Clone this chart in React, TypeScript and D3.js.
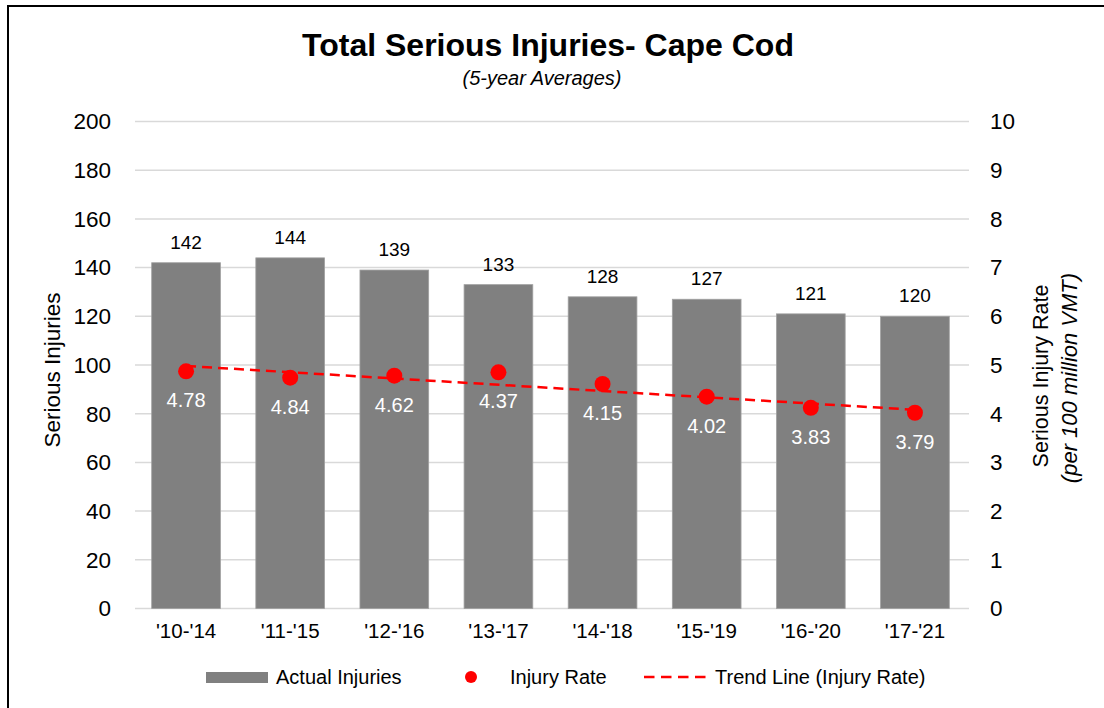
import * as d3 from "d3";

const categories = ["'10-'14", "'11-'15", "'12-'16", "'13-'17", "'14-'18", "'15-'19", "'16-'20", "'17-'21"];
const injuries = [142, 144, 139, 133, 128, 127, 121, 120];
// plotted rate markers (as they sit in the picture) and the labels printed under them
const rateValues = [4.87, 4.74, 4.78, 4.85, 4.61, 4.35, 4.12, 4.02];
const rateLabels = ["4.78", "4.84", "4.62", "4.37", "4.15", "4.02", "3.83", "3.79"];
// trend line value at first and last category
const trendEnds = [4.98, 4.08];
const leftTicks = [0, 20, 40, 60, 80, 100, 120, 140, 160, 180, 200];
const rightTicks = [0, 1, 2, 3, 4, 5, 6, 7, 8, 9, 10];

const W = 1104;
const H = 708;
const FONT = "'Liberation Sans', Arial, sans-serif";

const App = () => {
  const x = d3.scaleBand().domain(categories).range([134, 967]).paddingInner(0.34).paddingOuter(0.17);
  const yL = d3.scaleLinear().domain([0, 200]).range([608.5, 121.5]);
  const yR = d3.scaleLinear().domain([0, 10]).range([608.5, 121.5]);
  const cx = (c) => (x(c) as number) + x.bandwidth() / 2;

  const trendLine = d3
    .line<number>()
    .x((_, i) => cx(categories[i === 0 ? 0 : categories.length - 1]))
    .y((d) => yR(d));

  return (
    <svg width={W} height={H} style={{ position: "absolute", left: 0, top: 0, display: "block" }} fontFamily={FONT}>
      <rect x={0} y={0} width={W} height={H} fill="#fff" />
      {/* outer border (only top/left visible) */}
      <rect x={8} y={6} width={W + 50} height={H + 50} fill="none" stroke="#000" strokeWidth={2} />

      {/* title */}
      <text x={548} y={56} textAnchor="middle" fontSize={32} fontWeight="bold" fill="#000">
        Total Serious Injuries- Cape Cod
      </text>
      <text x={542} y={85} textAnchor="middle" fontSize={20} fontStyle="italic" fill="#000">
        (5-year Averages)
      </text>

      {/* gridlines */}
      {leftTicks.map((t) => (
        <line key={t} x1={135} x2={969} y1={yL(t)} y2={yL(t)} stroke="#d9d9d9" strokeWidth={1.5} />
      ))}

      {/* left ticks */}
      {leftTicks.map((t) => (
        <text key={"l" + t} x={111} y={yL(t)} dy="0.35em" textAnchor="end" fontSize={22.5} fill="#000">
          {t}
        </text>
      ))}
      {/* right ticks */}
      {rightTicks.map((t) => (
        <text key={"r" + t} x={990} y={yR(t)} dy="0.35em" textAnchor="start" fontSize={22.5} fill="#000">
          {t}
        </text>
      ))}

      {/* axis titles */}
      <text transform="translate(60,370) rotate(-90)" textAnchor="middle" fontSize={22.5} fill="#000">
        Serious Injuries
      </text>
      <text transform="translate(1048,376) rotate(-90)" textAnchor="middle" fontSize={21.5} fill="#000">
        Serious Injury Rate
      </text>
      <text transform="translate(1077,378) rotate(-90)" textAnchor="middle" fontSize={22} fontStyle="italic" fill="#000">
        (per 100 million VMT)
      </text>

      {/* bars */}
      {categories.map((c, i) => (
        <rect
          key={c}
          x={x(c)}
          y={yL(injuries[i])}
          width={x.bandwidth()}
          height={yL(0) - yL(injuries[i])}
          fill="#808080"
          stroke="#a0a0a0"
          strokeWidth={0.8}
        />
      ))}
      {categories.map((c, i) => (
        <text key={"v" + c} x={cx(c)} y={yL(injuries[i]) - 14} textAnchor="middle" fontSize={19} fill="#000">
          {injuries[i]}
        </text>
      ))}

      {/* category labels */}
      {categories.map((c) => (
        <text key={"c" + c} x={cx(c)} y={638} textAnchor="middle" fontSize={20.5} fill="#000">
          {c}
        </text>
      ))}

      {/* trend line */}
      <path d={trendLine(trendEnds) || ""} fill="none" stroke="#ff0000" strokeWidth={2.5} strokeDasharray="10,6" />

      {/* rate markers */}
      {categories.map((c, i) => (
        <circle key={"d" + c} cx={cx(c)} cy={yR(rateValues[i])} r={8} fill="#ff0000" />
      ))}
      {categories.map((c, i) => (
        <text key={"rl" + c} x={cx(c)} y={yR(rateValues[i]) + 36} textAnchor="middle" fontSize={20} fill="#fff">
          {rateLabels[i]}
        </text>
      ))}

      {/* legend */}
      <g fontSize={20} fill="#000">
        <rect x={206} y={672} width={62} height={11} fill="#808080" />
        <text x={276} y={684}>Actual Injuries</text>
        <circle cx={471} cy={677} r={6} fill="#ff0000" />
        <text x={510} y={684}>Injury Rate</text>
        <line x1={644} x2={706} y1={677} y2={677} stroke="#ff0000" strokeWidth={2.5} strokeDasharray="10.5,6.5" />
        <text x={715} y={684}>Trend Line (Injury Rate)</text>
      </g>
    </svg>
  );
};

export default App;
